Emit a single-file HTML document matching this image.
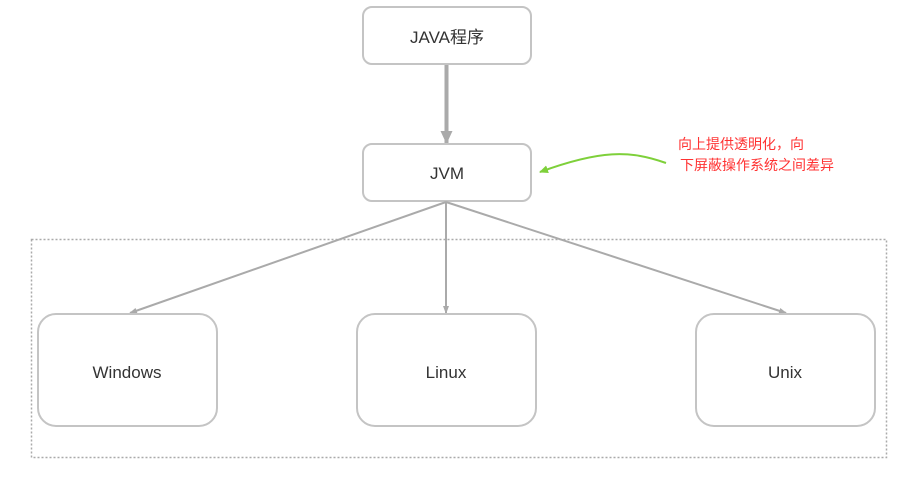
<!DOCTYPE html>
<html><head><meta charset="utf-8"><style>
body{margin:0;background:#fff;width:918px;height:478px;overflow:hidden}
</style></head><body>
<svg width="918" height="478" xmlns="http://www.w3.org/2000/svg" font-family="'Liberation Sans','Noto Sans CJK SC',sans-serif">
<defs>
<marker id="a" markerWidth="8" markerHeight="8" refX="7" refY="4" orient="auto" markerUnits="userSpaceOnUse"><path d="M0,1 L8,4 L0,7 Z" fill="#aaa"/></marker>
<marker id="b" markerWidth="14" markerHeight="14" refX="12" refY="6" orient="auto" markerUnits="userSpaceOnUse"><path d="M0,0 L13,6 L0,12 Z" fill="#aaa"/></marker>
<marker id="g" markerWidth="10" markerHeight="10" refX="8" refY="4" orient="auto" markerUnits="userSpaceOnUse"><path d="M0,0 L9,4 L0,8 Z" fill="#7ed03a"/></marker>
</defs>
<rect x="31.5" y="239.5" width="855" height="218" fill="none" stroke="#aaa" stroke-width="1.5" stroke-dasharray="2,2"/>
<rect x="363" y="7" width="168" height="57" rx="9" fill="#fff" stroke="#c4c4c4" stroke-width="2"/>
<text x="447" y="43" text-anchor="middle" font-size="17" fill="#333">JAVA程序</text>
<line x1="446.5" y1="65" x2="446.5" y2="143" stroke="#aaa" stroke-width="4" marker-end="url(#b)"/>
<rect x="363" y="144" width="168" height="57" rx="9" fill="#fff" stroke="#c4c4c4" stroke-width="2"/>
<text x="447" y="179" text-anchor="middle" font-size="17" fill="#333">JVM</text>
<line x1="446" y1="202" x2="130" y2="313" stroke="#aaa" stroke-width="2" marker-end="url(#a)"/>
<line x1="446" y1="202" x2="446" y2="313" stroke="#aaa" stroke-width="2" marker-end="url(#a)"/>
<line x1="446" y1="202" x2="786" y2="313" stroke="#aaa" stroke-width="2" marker-end="url(#a)"/>
<rect x="38" y="314" width="179" height="112" rx="18" fill="#fff" stroke="#c4c4c4" stroke-width="2"/>
<text x="127" y="378" text-anchor="middle" font-size="17" fill="#333">Windows</text>
<rect x="357" y="314" width="179" height="112" rx="18" fill="#fff" stroke="#c4c4c4" stroke-width="2"/>
<text x="446" y="378" text-anchor="middle" font-size="17" fill="#333">Linux</text>
<rect x="696" y="314" width="179" height="112" rx="18" fill="#fff" stroke="#c4c4c4" stroke-width="2"/>
<text x="785" y="378" text-anchor="middle" font-size="17" fill="#333">Unix</text>
<path d="M666,163 C630,150 600,150 540,172" fill="none" stroke="#7ed03a" stroke-width="2" marker-end="url(#g)"/>
<text x="678" y="149" font-size="14" fill="#ff3333">向上提供透明化，向</text>
<text x="680" y="170" font-size="14" fill="#ff3333">下屏蔽操作系统之间差异</text>
</svg>
</body></html>
